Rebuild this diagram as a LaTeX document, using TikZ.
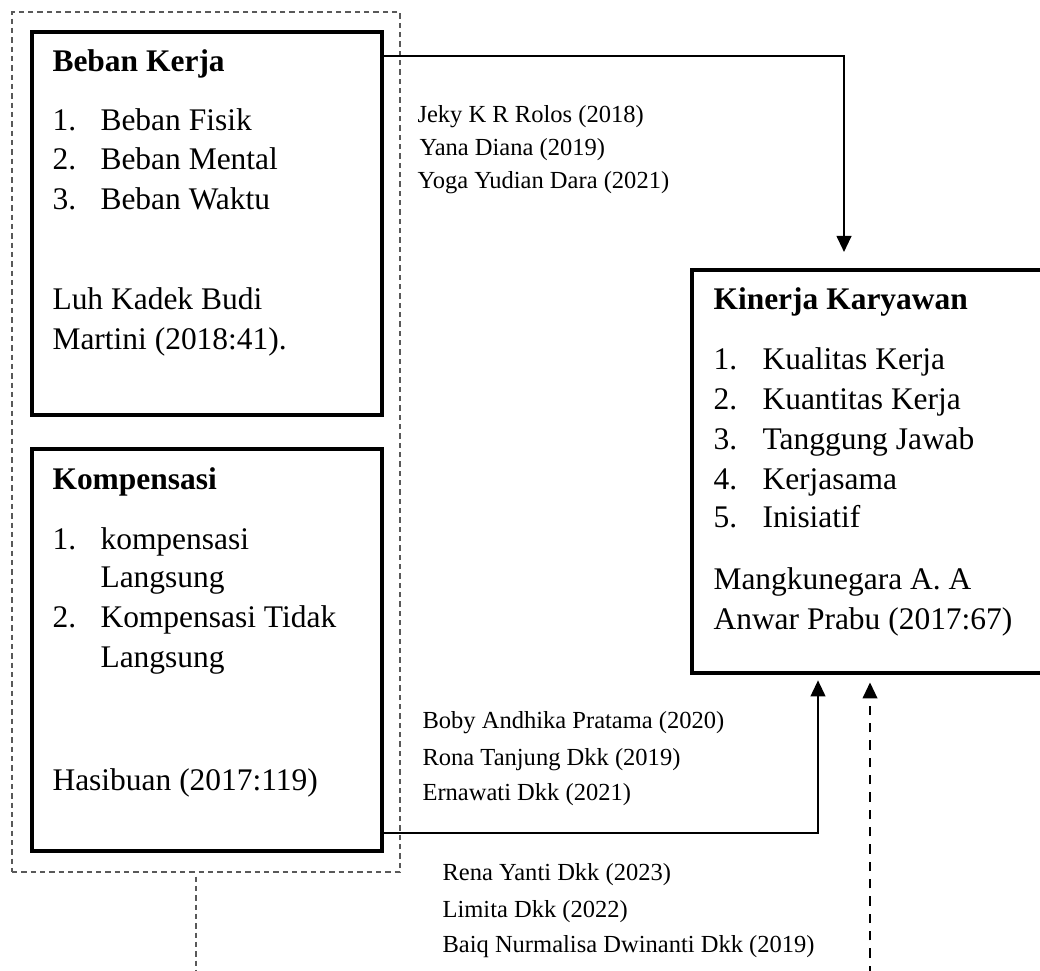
\documentclass[tikz,border=0pt]{standalone}
\usepackage{fontspec}
\setmainfont{Liberation Serif}
\usetikzlibrary{arrows.meta}
\tikzset{
 box/.style={draw=black, line width=1.5pt, rectangle, inner sep=0pt},
 grp/.style={draw=black!65, line width=0.4pt, dash pattern=on 2pt off 1.5pt, rectangle, inner sep=0pt},
 conn/.style={draw, line width=0.75pt, -{Triangle[width=5.5pt,length=6pt]}},
 dconn/.style={conn, dash pattern=on 3.5pt off 3pt},
 thindash/.style={draw=black!65, line width=0.4pt, dash pattern=on 2pt off 1.5pt},
 txt/.style={anchor=base west, inner sep=0pt, font=\fontsize{11.8}{14}\selectfont},
 hd/.style={anchor=base west, inner sep=0pt, font=\fontsize{11.8}{14}\selectfont\bfseries},
 cit/.style={anchor=base west, inner sep=0pt, font=\fontsize{9.2}{11}\selectfont},
}
\begin{document}
\begin{tikzpicture}[x=0.375pt,y=-0.375pt]
\useasboundingbox (0,0) rectangle (1040,971);
% group
\node[grp, minimum width=388*0.375pt, minimum height=860*0.375pt] (group) at (206,442) {};
% boxes
\node[box, minimum width=350*0.375pt, minimum height=383*0.375pt] (beban) at (207,223.5) {};
\node[box, minimum width=350*0.375pt, minimum height=402*0.375pt] (komp) at (207,650) {};
\node[box, minimum width=354*0.375pt, minimum height=403*0.375pt] (kin) at (869,471.5) {};

% Beban Kerja text
\node[hd] (bk0) at (52,72) {Beban Kerja};
\node[txt] (bk1n) at (52,131) {1.};
\node[txt] (bk1) at (100,131) {Beban Fisik};
\node[txt] (bk2n) at (52,170) {2.};
\node[txt] (bk2) at (100,170) {Beban Mental};
\node[txt] (bk3n) at (52,210) {3.};
\node[txt] (bk3) at (100,210) {Beban Waktu};
\node[txt] (bk4) at (52,310) {Luh Kadek Budi};
\node[txt] (bk5) at (52,350) {Martini (2018:41).};

% Kompensasi text
\node[hd] (kp0) at (52,490) {Kompensasi};
\node[txt] (kp1n) at (52,550) {1.};
\node[txt] (kp1) at (100,550) {kompensasi};
\node[txt] (kp1b) at (100,588) {Langsung};
\node[txt] (kp2n) at (52,627) {2.};
\node[txt] (kp2) at (100,627) {Kompensasi Tidak};
\node[txt] (kp2b) at (100,667) {Langsung};
\node[txt] (kp3) at (52,790) {Hasibuan (2017:119)};

% Kinerja text
\node[hd] (kk0) at (713,310) {Kinerja Karyawan};
\node[txt] (kk1n) at (713,370) {1.};
\node[txt] (kk1) at (762,370) {Kualitas Kerja};
\node[txt] (kk2n) at (713,410) {2.};
\node[txt] (kk2) at (762,410) {Kuantitas Kerja};
\node[txt] (kk3n) at (713,450) {3.};
\node[txt] (kk3) at (762,450) {Tanggung Jawab};
\node[txt] (kk4n) at (713,490) {4.};
\node[txt] (kk4) at (762,490) {Kerjasama};
\node[txt] (kk5n) at (713,528) {5.};
\node[txt] (kk5) at (762,528) {Inisiatif};
\node[txt] (kk6) at (713,590) {Mangkunegara A. A};
\node[txt] (kk7) at (713,630) {Anwar Prabu (2017:67)};

% citations
\node[cit] (c1) at (417,123) {Jeky K R Rolos (2018)};
\node[cit] (c2) at (419,156) {Yana Diana (2019)};
\node[cit] (c3) at (417,189) {Yoga Yudian Dara (2021)};
\node[cit] (c4) at (422,728) {Boby Andhika Pratama (2020)};
\node[cit] (c5) at (422,765) {Rona Tanjung Dkk (2019)};
\node[cit] (c6) at (422,800) {Ernawati Dkk (2021)};
\node[cit] (c7) at (442,880) {Rena Yanti Dkk (2023)};
\node[cit] (c8) at (442,917) {Limita Dkk (2022)};
\node[cit] (c9) at (442,952) {Baiq Nurmalisa Dwinanti Dkk (2019)};

% connectors
\coordinate (j1) at (844,56);
\draw[conn] (beban.east |- j1) -- (j1) -- ([yshift=6pt]kin.north -| j1);
\coordinate (j2) at (818,833);
\draw[conn] (komp.east |- j2) -- (j2) -- ([yshift=-2pt]kin.south -| j2);
\coordinate (b2) at (870,975);
\draw[dconn] (b2) -- ([yshift=-2.8pt]kin.south -| b2);
\coordinate (b1) at (196,975);
\draw[thindash] ([yshift=-1.5pt]group.south -| b1) -- (b1);
\end{tikzpicture}
\end{document}
